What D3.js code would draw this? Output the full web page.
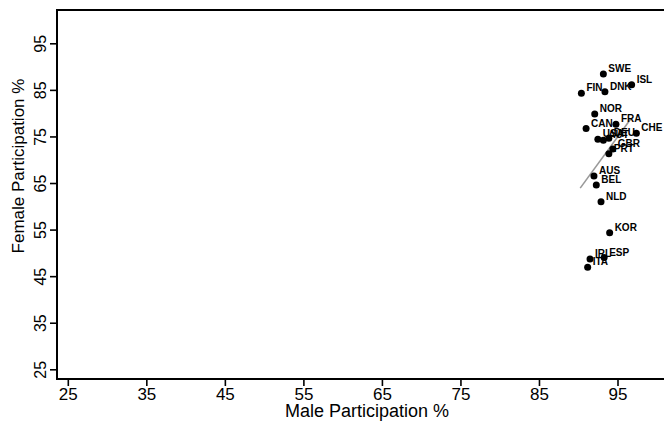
<!DOCTYPE html>
<html>
<head>
<meta charset="utf-8">
<script src="https://cdn.jsdelivr.net/npm/d3@7"></script>
<style>
  html, body { margin: 0; padding: 0; background: #fff; }
  svg { display: block; font-family: "Liberation Sans", Arial, sans-serif; }
</style>
</head>
<body>
<svg id="chart" width="664" height="431"></svg>
<script>
const countries = ["SWE","ISL","FIN","DNK","NOR","CAN","FRA","CHE","USA","AUT","DEU","GBR","PRT","AUS","BEL","NLD","KOR","IRL","ESP","ITA"];
const maleParticipation =   [93.2, 96.8, 90.4, 93.4, 92.1, 91.0, 94.8, 97.4, 92.5, 93.2, 93.9, 94.4, 93.9, 92.0, 92.3, 92.9, 94.0, 91.5, 93.3, 91.2];
const femaleParticipation = [88.4, 86.1, 84.3, 84.6, 79.8, 76.7, 77.6, 75.7, 74.4, 74.2, 74.6, 72.3, 71.3, 66.5, 64.6, 61.0, 54.3, 48.7, 49.0, 46.9];
const fitMale = [90.25, 96.75];
const fitFemale = [63.9, 78.9];
const xTicks = [25, 35, 45, 55, 65, 75, 85, 95];
const yTicks = [25, 35, 45, 55, 65, 75, 85, 95];
const xTitle = "Male Participation %";
const yTitle = "Female Participation %";

const svg = d3.select("#chart");
const x = d3.scaleLinear().domain([25, 95]).range([67.8, 617.5]);
const y = d3.scaleLinear().domain([25, 95]).range([369.3, 43.3]);
const frame = { left: 57, right: 677, top: 10, bottom: 379 };

// plot frame
svg.append("rect")
  .attr("x", frame.left).attr("y", frame.top)
  .attr("width", frame.right - frame.left).attr("height", frame.bottom - frame.top)
  .attr("fill", "none").attr("stroke", "#000").attr("stroke-width", 2);

// x axis
const xAxis = svg.append("g").attr("transform", `translate(0,${frame.bottom})`)
  .call(d3.axisBottom(x).tickValues(xTicks).tickSize(7).tickPadding(2).tickFormat(d3.format("d")));
xAxis.select(".domain").remove();
xAxis.selectAll("line").attr("stroke", "#000").attr("stroke-width", 1.6);
xAxis.selectAll("text").attr("font-size", 17).attr("fill", "#000")
  .attr("font-family", "Liberation Sans, Arial, sans-serif");

// y axis
const yAxis = svg.append("g").attr("transform", `translate(${frame.left},0)`)
  .call(d3.axisLeft(y).tickValues(yTicks).tickSize(7).tickFormat(d3.format("d")));
yAxis.select(".domain").remove();
yAxis.selectAll("line").attr("stroke", "#000").attr("stroke-width", 1.6);
yAxis.selectAll("text")
  .attr("font-size", 16).attr("fill", "#000")
  .attr("font-family", "Liberation Sans, Arial, sans-serif")
  .attr("x", null).attr("dy", null)
  .attr("text-anchor", "middle")
  .attr("transform", "translate(-11,0) rotate(-90)");

// titles
svg.append("text").attr("x", 367).attr("y", 417)
  .attr("text-anchor", "middle").attr("font-size", 18).text(xTitle);
svg.append("text")
  .attr("transform", "translate(24,166) rotate(-90)")
  .attr("text-anchor", "middle").attr("font-size", 17).text(yTitle);

// fit line
svg.append("line")
  .attr("x1", x(fitMale[0])).attr("y1", y(fitFemale[0]))
  .attr("x2", x(fitMale[1])).attr("y2", y(fitFemale[1]))
  .attr("stroke", "#999").attr("stroke-width", 1.6);

const data = countries.map((c, i) => ({ c, m: maleParticipation[i], f: femaleParticipation[i] }));

svg.append("g").selectAll("circle").data(data).join("circle")
  .attr("cx", d => x(d.m)).attr("cy", d => y(d.f)).attr("r", 3.5).attr("fill", "#000");

svg.append("g").selectAll("text").data(data).join("text")
  .attr("x", d => x(d.m) + 5).attr("y", d => y(d.f) - 2)
  .attr("font-size", 10).attr("font-weight", "bold").attr("fill", "#000")
  .text(d => d.c);
</script>
</body>
</html>
